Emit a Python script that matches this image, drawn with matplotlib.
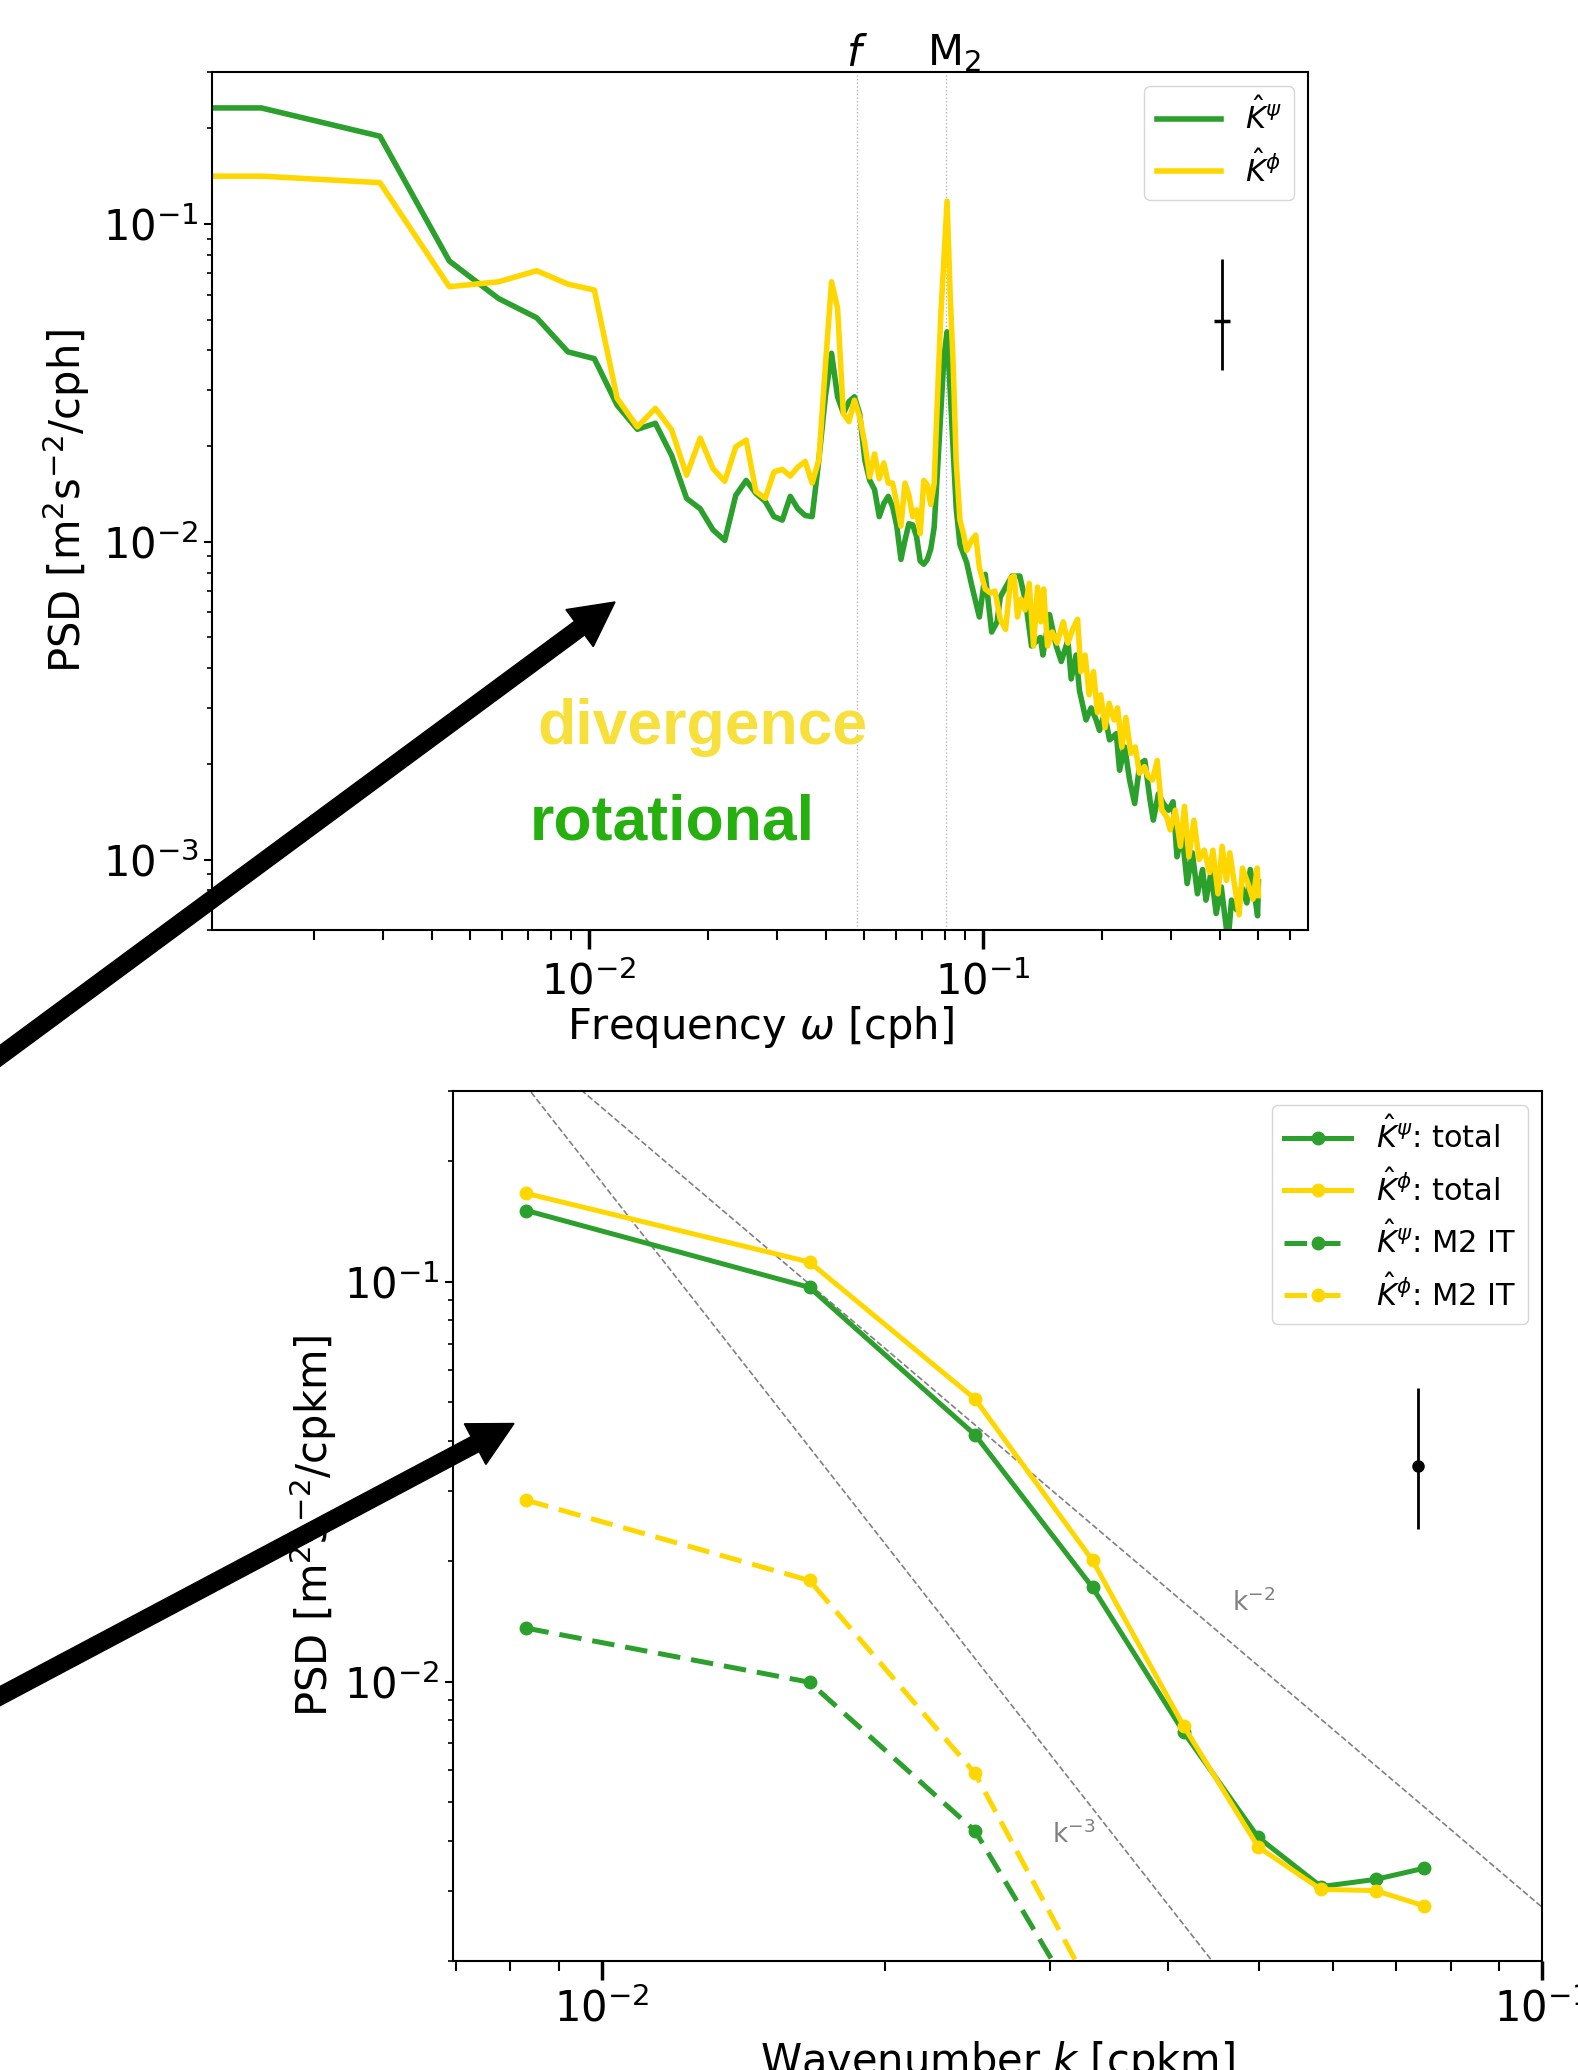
import numpy as np
import matplotlib
matplotlib.use("Agg")
import matplotlib.pyplot as plt
from matplotlib.patches import FancyArrow
from matplotlib.transforms import IdentityTransform, blended_transform_factory, offset_copy
from matplotlib.ticker import NullFormatter

# ---------------- top panel data: frequency spectra ----------------
freq_low = [0.0011, 0.001474, 0.002948, 0.004422, 0.005896, 0.00737, 0.008844, 0.01032,
            0.01179, 0.01327, 0.01474, 0.01621, 0.01769, 0.01916, 0.02064, 0.02211, 0.02358,
            0.02506, 0.02653, 0.02801, 0.02948, 0.03095, 0.03243, 0.0339, 0.03538, 0.03685,
            0.03832, 0.0398, 0.04127, 0.04275, 0.04422, 0.04569, 0.04717, 0.04864, 0.05012,
            0.05159, 0.05306, 0.05454, 0.05601, 0.05749, 0.05896, 0.06043, 0.06191, 0.06338,
            0.06486, 0.06633, 0.0678, 0.06928, 0.07075, 0.07223, 0.0737, 0.07517, 0.07665,
            0.07812, 0.0796, 0.08107, 0.08254, 0.08402, 0.08549]
psi_low = [0.232, 0.232, 0.189, 0.0765, 0.0583, 0.0507, 0.0396, 0.0377, 0.0269, 0.0226,
           0.0236, 0.0187, 0.0137, 0.0127, 0.0109, 0.0101, 0.0140, 0.0156, 0.0142, 0.0134,
           0.0120, 0.0117, 0.0139, 0.0127, 0.0121, 0.0120, 0.0181, 0.0286, 0.0392, 0.0286,
           0.0254, 0.0276, 0.0286, 0.0253, 0.0181, 0.0156, 0.0146, 0.0120, 0.0132, 0.0139,
           0.0129, 0.0112, 0.0088, 0.0101, 0.0114, 0.0113, 0.0104, 0.0087, 0.0085, 0.0088,
           0.0095, 0.0111, 0.0168, 0.0254, 0.0382, 0.0458, 0.0300, 0.0194, 0.0128]
phi_low = [0.1415, 0.1415, 0.135, 0.0635, 0.0658, 0.0713, 0.0647, 0.0620, 0.0283, 0.0230,
           0.0263, 0.0225, 0.0162, 0.0212, 0.0170, 0.0155, 0.0199, 0.0209, 0.0144, 0.0137,
           0.0166, 0.0169, 0.0161, 0.0172, 0.0179, 0.0153, 0.0181, 0.0356, 0.0658, 0.0543,
           0.0253, 0.0239, 0.0279, 0.0247, 0.0204, 0.0160, 0.0189, 0.0158, 0.0177, 0.0153,
           0.0153, 0.0132, 0.0112, 0.0153, 0.0140, 0.0120, 0.0126, 0.0106, 0.0156, 0.0151,
           0.0131, 0.0153, 0.0286, 0.0511, 0.078, 0.118, 0.060, 0.036, 0.018]

freq_psi_tail = [0.0874, 0.0909, 0.0936, 0.0979, 0.1013, 0.1052, 0.1086, 0.1106, 0.1184, 0.1240,
                 0.1282, 0.1328, 0.1399, 0.1419, 0.1475, 0.1534, 0.1580, 0.1642, 0.1674, 0.1723,
                 0.1757, 0.1826, 0.1881, 0.1937, 0.1975, 0.2034, 0.2095, 0.2179, 0.2221, 0.2288,
                 0.2355, 0.2426, 0.2500, 0.2575, 0.2653, 0.2705, 0.2787, 0.2871, 0.2958, 0.3036,
                 0.3107, 0.3200, 0.3297, 0.3398, 0.3501, 0.3607, 0.3679, 0.3791, 0.3906, 0.4024,
                 0.4146, 0.4201, 0.4272, 0.4401, 0.4534, 0.4673, 0.4767, 0.4910, 0.4975, 0.5000]
psi_tail = [0.0098, 0.0086, 0.0073, 0.0058, 0.0079, 0.0052, 0.0056, 0.0067, 0.0078, 0.0078,
            0.0065, 0.0047, 0.0050, 0.0044, 0.0059, 0.0047, 0.0042, 0.0049, 0.0037, 0.0044,
            0.0034, 0.00275, 0.0030, 0.00275, 0.00255, 0.00288, 0.00238, 0.00249, 0.00191, 0.00226,
            0.00178, 0.0015, 0.0020, 0.00205, 0.00154, 0.00133, 0.00161, 0.0015, 0.00143, 0.00152,
            0.00102, 0.00121, 0.00084, 0.00105, 0.00078, 0.00093, 0.000745, 0.00091, 0.000676, 0.00082,
            0.000607, 0.00058, 0.000745, 0.000695, 0.00082, 0.00073, 0.00093, 0.000745, 0.000665, 0.00085]

freq_phi_tail = [0.0874, 0.0892, 0.0909, 0.0936, 0.0958, 0.0979, 0.1013, 0.1045, 0.1072, 0.1106,
                 0.1141, 0.1176, 0.1200, 0.1223, 0.1248, 0.1278, 0.1310, 0.1344, 0.1375, 0.1402,
                 0.1425, 0.1458, 0.1499, 0.1542, 0.1598, 0.1642, 0.1688, 0.1738, 0.1772, 0.1816,
                 0.1859, 0.1907, 0.1952, 0.1990, 0.2041, 0.2090, 0.2152, 0.2195, 0.2251, 0.2304,
                 0.2373, 0.2435, 0.2494, 0.2569, 0.2621, 0.2692, 0.2768, 0.2843, 0.2927, 0.2986,
                 0.3076, 0.3169, 0.3246, 0.3330, 0.3430, 0.3536, 0.3644, 0.3756, 0.3832, 0.3947,
                 0.4045, 0.4146, 0.4230, 0.4319, 0.4466, 0.4555, 0.4702, 0.4842, 0.4967, 0.5000]
phi_tail = [0.0117, 0.0106, 0.0094, 0.0101, 0.0105, 0.0083, 0.0071, 0.0069, 0.0070, 0.0057,
            0.0053, 0.0077, 0.0078, 0.0058, 0.0066, 0.0061, 0.0074, 0.0047, 0.0072, 0.0056,
            0.0071, 0.0047, 0.0052, 0.0048, 0.0056, 0.0048, 0.0053, 0.0057, 0.0039, 0.0044,
            0.0033, 0.0039, 0.0029, 0.0033, 0.0026, 0.0031, 0.00275, 0.0030, 0.00226, 0.0028,
            0.00216, 0.00226, 0.00187, 0.00196, 0.00183, 0.00178, 0.00205, 0.00143, 0.00136, 0.00124,
            0.00143, 0.0011, 0.00147, 0.00102, 0.00133, 0.0010, 0.00107, 0.00091, 0.00107, 0.00078,
            0.0011, 0.00086, 0.00105, 0.00088, 0.00067, 0.00094, 0.00084, 0.00075, 0.00094, 0.00077]

f_cph = 0.048
m2_cph = 0.0805
err_top_x = 0.403
err_top_y = 0.0495
err_top_lo = 0.0347
err_top_hi = 0.0776

# ---------------- bottom panel data: wavenumber spectra ----------------
wavenumber = [0.00832, 0.01664, 0.02496, 0.03328, 0.0416, 0.04992, 0.05824, 0.06656, 0.07488]
psi_total = [0.1507, 0.0968, 0.0414, 0.0172, 0.00747, 0.00408, 0.00307, 0.0032, 0.00341]
phi_total = [0.1663, 0.112, 0.0509, 0.0201, 0.00774, 0.00386, 0.00302, 0.0030, 0.00275]
psi_m2 = [0.0136, 0.00996, 0.00423, 0.00136]
phi_m2 = [0.0284, 0.0179, 0.00589, 0.00167]
c_k2 = 2.73e-5
c_k3 = 1.775e-7
k_ref = [0.005, 0.2]
err_bot_x = 0.0738
err_bot_y = 0.0347
err_bot_lo = 0.0241
err_bot_hi = 0.0542

GREEN = '#2ca02c'
GOLD = '#FFD700'

W, H = 1578, 2070
fig = plt.figure(figsize=(W / 100, H / 100), dpi=100)

# ================= top axes =================
ax1 = fig.add_axes([212 / W, 1 - 930 / H, (1308 - 212) / W, (930 - 72) / H])
fpsi = np.array(freq_low + freq_psi_tail)
ppsi = np.array(psi_low + psi_tail)
fphi = np.array(freq_low + freq_phi_tail)
pphi = np.array(phi_low + phi_tail)
ax1.axvline(f_cph, color='0.72', ls=':', lw=1.0, zorder=1)
ax1.axvline(m2_cph, color='0.72', ls=':', lw=1.0, zorder=1)
ax1.plot(fpsi, ppsi, color=GREEN, lw=4, label=r'$\hat{K}^{\psi}$')
ax1.plot(fphi, pphi, color=GOLD, lw=4, label=r'$\hat{K}^{\phi}$')
ax1.set_xscale('log')
ax1.set_yscale('log')
ax1.set_xlim(0.001105, 0.668)
ax1.set_ylim(0.0006, 0.301)
ax1.errorbar([err_top_x], [err_top_y],
             yerr=[[err_top_y - err_top_lo], [err_top_hi - err_top_y]],
             fmt='_', color='k', ms=11, mew=2.5, lw=2, capsize=0)
ax1.legend(loc='upper right', fontsize=22, handlelength=2.1, borderaxespad=0.45)
ax1.set_xlabel(r'Frequency $\omega$ [cph]', fontsize=30, labelpad=0)
ax1.set_ylabel(r'PSD [m$^2$s$^{-2}$/cph]', fontsize=30, labelpad=8)
trans1 = blended_transform_factory(ax1.transData, ax1.transAxes)
ax1.text(f_cph, 0.997, r'$f$', transform=trans1, ha='center', va='bottom', fontsize=30)
ax1.text(m2_cph, 0.997, r'M$_2$', transform=offset_copy(trans1, fig=fig, x=8, units='dots'),
         ha='center', va='bottom', fontsize=30)

# ================= bottom axes =================
ax2 = fig.add_axes([453 / W, 1 - 1961 / H, (1541.8 - 453) / W, (1961 - 1091) / H])
kr = np.array(k_ref)
ax2.plot(kr, c_k2 * kr ** -2.0, color='gray', ls='--', lw=1.2, zorder=1)
ax2.plot(kr, c_k3 * kr ** -3.0, color='gray', ls='--', lw=1.2, zorder=1)
ax2.plot(wavenumber, psi_total, color=GREEN, lw=3.6, marker='o', ms=9, label=r'$\hat{K}^{\psi}$: total')
ax2.plot(wavenumber, phi_total, color=GOLD, lw=3.6, marker='o', ms=9, label=r'$\hat{K}^{\phi}$: total')
ax2.plot(wavenumber[:len(psi_m2)], psi_m2, color=GREEN, lw=3.6, marker='o', ms=9,
         ls='--', dashes=(4.5, 2.2), label=r'$\hat{K}^{\psi}$: M2 IT')
ax2.plot(wavenumber[:len(phi_m2)], phi_m2, color=GOLD, lw=3.6, marker='o', ms=9,
         ls='--', dashes=(4.5, 2.2), label=r'$\hat{K}^{\phi}$: M2 IT')
ax2.set_xscale('log')
ax2.set_yscale('log')
ax2.set_xlim(0.00695, 0.1)
ax2.set_ylim(0.002, 0.30)
ax2.errorbar([err_bot_x], [err_bot_y],
             yerr=[[err_bot_y - err_bot_lo], [err_bot_hi - err_bot_y]],
             fmt='o', color='k', ms=8, lw=2, capsize=0)
ax2.text(0.0468, 0.01497, r'k$^{-2}$', color='gray', fontsize=19, ha='left', va='baseline')
ax2.text(0.0301, 0.00395, r'k$^{-3}$', color='gray', fontsize=19, ha='left', va='baseline')
ax2.legend(loc='upper right', fontsize=22, handlelength=2.2, borderaxespad=0.45)
ax2.set_xlabel(r'Wavenumber $k$ [cpkm]', fontsize=30, labelpad=6)
ax2.set_ylabel(r'PSD [m$^2$s$^{-2}$/cpkm]', fontsize=30, labelpad=4)

for ax in (ax1, ax2):
    for s in ax.spines.values():
        s.set_linewidth(1.5)
    ax.tick_params(axis='x', which='major', length=13.5, width=2.5, labelsize=30, pad=4)
    ax.tick_params(axis='x', which='minor', length=7, width=1.5)
    ax.tick_params(axis='y', which='major', length=5.5, width=1.5, labelsize=30, pad=4)
    ax.tick_params(axis='y', which='minor', length=3.5, width=1.2)
    ax.xaxis.set_minor_formatter(NullFormatter())
    ax.yaxis.set_minor_formatter(NullFormatter())
ax1.tick_params(axis='x', which='major', pad=9)
ax2.tick_params(axis='x', which='major', pad=6)

# ================= overlay annotations =================
arrow_kw = dict(width=17, head_width=46, head_length=44, length_includes_head=True,
                color='black', transform=IdentityTransform(), zorder=20)
fig.add_artist(FancyArrow(-30, H - 1078, 645, 476, **arrow_kw))
fig.add_artist(FancyArrow(-30, H - 1712, 544, 288.5, **arrow_kw))

fig.text(537 / W, 1 - 744 / H, 'divergence', color='#F7E03C', fontsize=45,
         fontweight='bold', family='Liberation Sans', ha='left', va='baseline', zorder=21)
fig.text(530 / W, 1 - 840 / H, 'rotational', color='#26B010', fontsize=45,
         fontweight='bold', family='Liberation Sans', ha='left', va='baseline', zorder=21)

fig.savefig('out.png', dpi=100)
